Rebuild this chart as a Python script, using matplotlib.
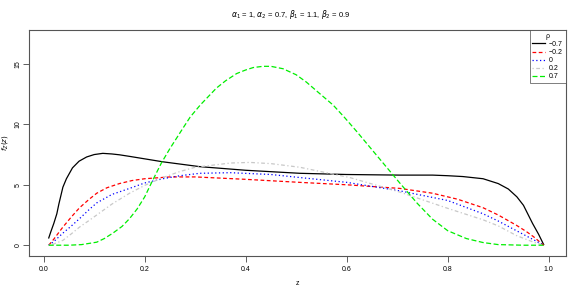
import numpy as np
import matplotlib
matplotlib.use('Agg')
import matplotlib.pyplot as plt

rho_labels = ['\u22120.7', '\u22120.2', '0', '0.2', '0.7']

z_black = [0.01, 0.014, 0.02, 0.026, 0.03, 0.038, 0.045, 0.057, 0.07, 0.085, 0.10,
           0.117, 0.135, 0.15, 0.17, 0.236, 0.309, 0.40, 0.507, 0.60, 0.705,
           0.77, 0.80, 0.83, 0.87, 0.90, 0.92, 0.937, 0.95, 0.968, 0.98, 0.99]
f_black = [0.6, 1.1, 1.8, 2.6, 3.4, 4.8, 5.5, 6.4, 6.95, 7.3, 7.5,
           7.6, 7.55, 7.48, 7.35, 6.9, 6.5, 6.2, 5.95, 5.85, 5.8,
           5.8, 5.75, 5.68, 5.5, 5.1, 4.65, 4.0, 3.3, 1.8, 0.9, 0.05]

z_red = [0.01, 0.02, 0.038, 0.055, 0.071, 0.09, 0.105, 0.125, 0.15, 0.175, 0.2,
         0.25, 0.30, 0.40, 0.507, 0.60, 0.705, 0.77, 0.82, 0.87, 0.90,
         0.936, 0.955, 0.97, 0.99]
f_red = [0.0, 0.5, 1.5, 2.35, 3.1, 3.8, 4.3, 4.75, 5.1, 5.35, 5.5,
         5.65, 5.65, 5.45, 5.2, 5.0, 4.7, 4.3, 3.8, 3.1, 2.5,
         1.65, 1.15, 0.7, 0.0]

z_blue = [0.01, 0.02, 0.038, 0.055, 0.071, 0.09, 0.105, 0.135, 0.17, 0.2, 0.236,
          0.27, 0.309, 0.37, 0.45, 0.507, 0.60, 0.705, 0.80, 0.87, 0.90,
          0.936, 0.97, 0.99]
f_blue = [0.0, 0.3, 1.0, 1.6, 2.2, 2.95, 3.5, 4.2, 4.7, 5.15, 5.5,
          5.75, 5.95, 6.0, 5.85, 5.6, 5.2, 4.5, 3.7, 2.6, 2.0,
          1.2, 0.45, 0.0]

z_gray = [0.01, 0.02, 0.038, 0.055, 0.071, 0.09, 0.105, 0.135, 0.17, 0.2, 0.236,
          0.27, 0.30, 0.37, 0.408, 0.45, 0.507, 0.606, 0.705, 0.80, 0.87,
          0.90, 0.936, 0.97, 0.99]
f_gray = [0.0, 0.1, 0.4, 0.95, 1.5, 2.05, 2.5, 3.4, 4.3, 4.95, 5.6,
          6.1, 6.45, 6.8, 6.85, 6.75, 6.45, 5.6, 4.4, 3.05, 2.1,
          1.6, 0.8, 0.25, 0.0]

z_green = [0.01, 0.05, 0.075, 0.105, 0.12, 0.137, 0.155, 0.17, 0.185, 0.2, 0.215,
           0.233, 0.25, 0.276, 0.29, 0.31, 0.342, 0.36, 0.382, 0.40, 0.415,
           0.434, 0.45, 0.474, 0.50, 0.52, 0.545, 0.573, 0.595, 0.62, 0.64,
           0.652, 0.672, 0.69, 0.705, 0.74, 0.77, 0.80, 0.837, 0.87, 0.90,
           0.95, 0.99]
f_green = [0.0, 0.0, 0.05, 0.25, 0.55, 1.0, 1.55, 2.2, 3.0, 4.0, 5.3,
           6.8, 8.0, 9.7, 10.6, 11.6, 13.0, 13.6, 14.2, 14.5, 14.7,
           14.8, 14.8, 14.6, 14.1, 13.5, 12.6, 11.6, 10.6, 9.4, 8.4,
           7.8, 6.8, 5.9, 5.15, 3.45, 2.15, 1.2, 0.55, 0.22, 0.05,
           0.0, 0.0]

x_ticks = [0.0, 0.2, 0.4, 0.6, 0.8, 1.0]
y_ticks = [0, 5, 10, 15]


def main():
	plt.rcParams['font.family'] = ['Liberation Sans', 'DejaVu Sans']
	fig = plt.figure(figsize=(5.81, 2.92), dpi=100)
	ax = fig.add_axes([0.050, 0.123, 0.924, 0.774])

	series = [
		(z_black, f_black, 'black', '-', 0.9),
		(z_red, f_red, '#ff0000', (0, (3, 2)), 0.9),
		(z_blue, f_blue, '#0000ff', (0, (1, 2)), 0.9),
		(z_gray, f_gray, '#c8c8c8', (0, (1, 2, 3, 2)), 0.9),
		(z_green, f_green, '#00ee00', (0, (4, 2)), 0.9),
	]
	for (z, f, col, ls, lw), lab in zip(series, rho_labels):
		ax.plot(z, f, color=col, linestyle=ls, linewidth=lw, label=lab)

	ax.set_xlim(-0.029, 1.034)
	ax.set_ylim(-0.9, 17.8)
	ax.set_xticks(x_ticks)
	ax.set_xticklabels(['0.0', '0.2', '0.4', '0.6', '0.8', '1.0'])
	ax.set_yticks(y_ticks)
	ax.set_yticklabels([str(v) for v in y_ticks], rotation=90, va='center')
	ax.tick_params(length=4, width=0.6, labelsize=5, pad=3, color='#444444')
	ax.tick_params(axis='y', pad=1.5)
	for s in ax.spines.values():
		s.set_color('#555555')
		s.set_linewidth(0.8)

	ax.set_xlabel('z', fontsize=5, labelpad=5)
	ax.set_ylabel(r'$f_Z(z)$', fontsize=5, labelpad=3)
	fig.suptitle(r'$\alpha_1$ = 1, $\alpha_2$ = 0.7, $\beta_1$ = 1.1, $\beta_2$ = 0.9',
	             fontsize=5.5, y=0.952, va='center')

	leg = ax.legend(title='\u03c1', loc='upper right', fontsize=5, title_fontsize=5,
	                fancybox=False, borderaxespad=0, handlelength=1.8,
	                labelspacing=0.15, borderpad=0.4, handletextpad=0.6)
	leg.get_frame().set_edgecolor('#444444')
	leg.get_frame().set_linewidth(0.6)

	fig.savefig('out.png', dpi=100)


if __name__ == '__main__':
	main()
